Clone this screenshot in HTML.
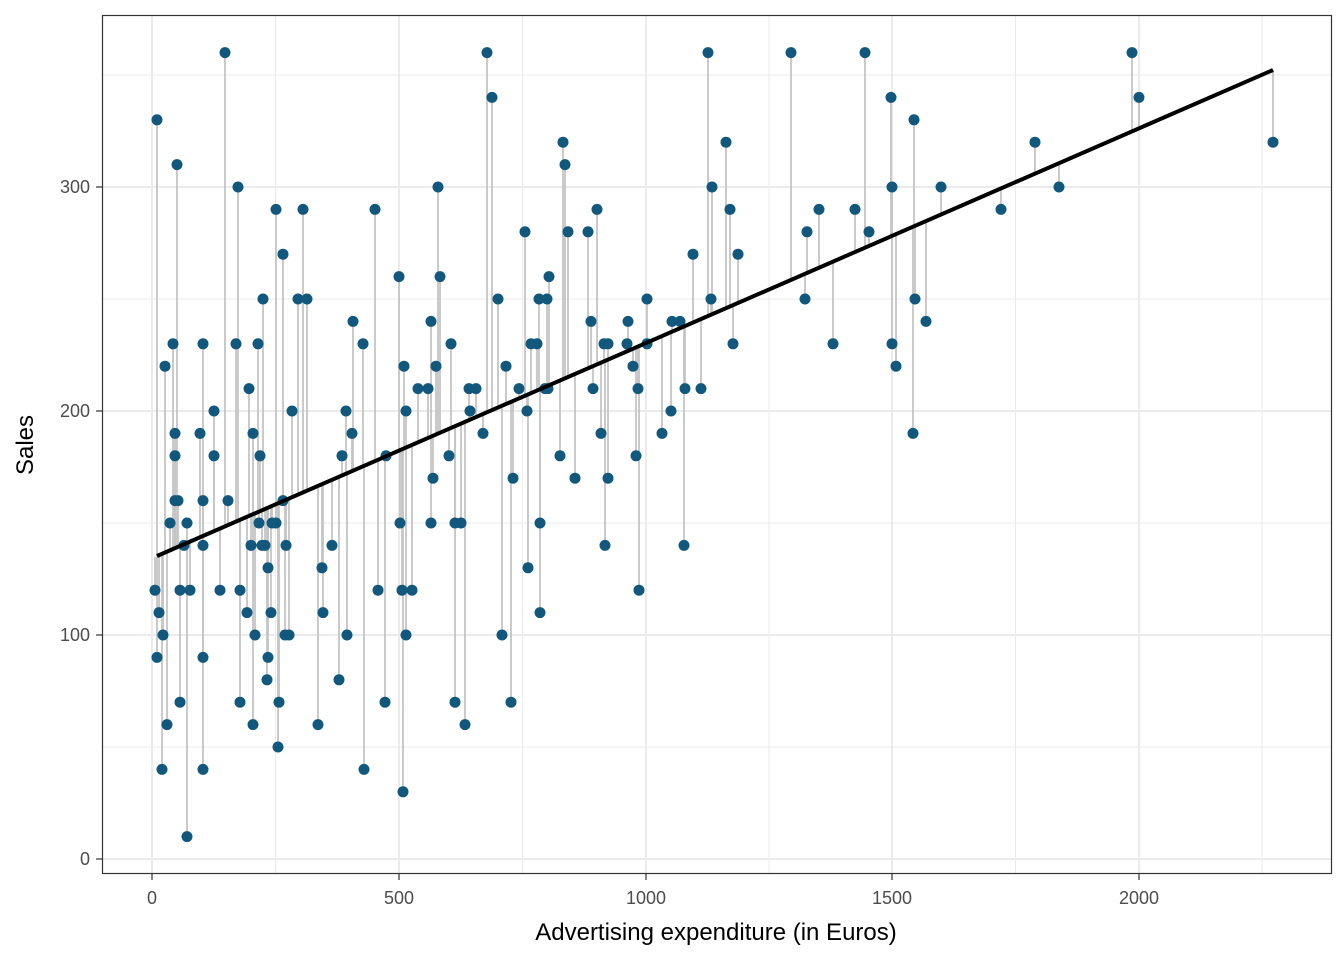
<!DOCTYPE html>
<html><head><meta charset="utf-8"><style>body{margin:0;background:#fff}svg{display:block}text{font-family:"Liberation Sans",Arial,sans-serif}</style></head>
<body>
<svg id="s" width="1344" height="960" xmlns="http://www.w3.org/2000/svg">
<rect x="0" y="0" width="1344" height="960" fill="#fff"/>
<g id="grid"></g>
<g id="seg"></g>
<g id="pts"></g>
<line x1="157" y1="556" x2="1273" y2="70" stroke="#000" stroke-width="4"/>
<rect x="102.5" y="15.5" width="1229" height="858" fill="none" stroke="#333" stroke-width="1.2"/>
<g id="ax" font-size="18" fill="#4d4d4d"></g>
<text x="716" y="940" font-size="24" text-anchor="middle" fill="#000">Advertising expenditure (in Euros)</text>
<text transform="translate(33,445) rotate(-90)" font-size="24" text-anchor="middle" fill="#000">Sales</text>
</svg>
<script>
var NS="http://www.w3.org/2000/svg";
function el(p,t,a){var e=document.createElementNS(NS,t);for(var k in a)e.setAttribute(k,a[k]);p.appendChild(e);return e;}
var g=document.getElementById('grid'),ax=document.getElementById('ax');
[275.5,522.5,769,1015.5,1262].forEach(function(x){el(g,'line',{x1:x,x2:x,y1:15,y2:874,stroke:'#ebebeb','stroke-width':1});});
[747,523,299,75].forEach(function(y){el(g,'line',{x1:102,x2:1332,y1:y,y2:y,stroke:'#ebebeb','stroke-width':1});});
var xs=[[152,'0'],[399,'500'],[646,'1000'],[892,'1500'],[1139,'2000']];
xs.forEach(function(a){el(g,'line',{x1:a[0],x2:a[0],y1:15,y2:874,stroke:'#ebebeb','stroke-width':2});
 el(ax,'line',{x1:a[0],x2:a[0],y1:874,y2:880,stroke:'#333','stroke-width':1.2});
 var t=el(ax,'text',{x:a[0],y:904,'text-anchor':'middle'});t.textContent=a[1];});
var ys=[[859,'0'],[635,'100'],[411,'200'],[187,'300']];
ys.forEach(function(a){el(g,'line',{x1:102,x2:1332,y1:a[0],y2:a[0],stroke:'#ebebeb','stroke-width':2});
 el(ax,'line',{x1:96,x2:102,y1:a[0],y2:a[0],stroke:'#333','stroke-width':1.2});
 var t=el(ax,'text',{x:90,y:a[0]+6,'text-anchor':'end'});t.textContent=a[1];});
var P=[157,330,155,120,157,90,159,110,163,100,165,220,162,40,167,60,170,150,173,230,175,190,175,180,175,160,177,310,178,160,180,120,180,70,184,140,187,150,187,10,190,120,200,190,203,230,203,160,203,140,203,90,203,40,214,200,214,180,220,120,225,360,228,160,236,230,238,300,240,120,240,70,247,110,249,210,251,140,253,190,253,60,255,100,258,230,260,180,259,150,263,250,262,140,265,140,268,130,268,90,267,80,271,110,272,150,276,290,276,150,278,50,279,70,283,270,283,160,285,100,286,140,289,100,292,200,298,250,303,290,307,250,318,60,322,130,323,110,332,140,339,80,342,180,346,200,347,100,352,190,353,240,363,230,364,40,375,290,378,120,386,180,385,70,399,260,400,150,402,120,403,30,404,220,406,200,406,100,412,120,418,210,428,210,431,240,431,150,433,170,436,220,438,300,440,260,449,180,451,230,455,150,455,70,461,150,465,60,469,210,470,200,476,210,483,190,487,360,492,340,498,250,502,100,506,220,511,70,513,170,519,210,525,280,527,200,528,130,531,230,537,230,539,250,540,150,540,110,545,210,548,210,547,250,549,260,560,180,563,320,565,310,568,280,575,170,588,280,591,240,593,210,597,290,601,190,604,230,608,230,605,140,608,170,627,230,628,240,633,220,636,180,638,210,639,120,647,250,647,230,662,190,671,200,672,240,680,240,684,140,685,210,693,270,701,210,708,360,711,250,712,300,726,320,730,290,733,230,738,270,791,360,805,250,807,280,819,290,833,230,855,290,865,360,869,280,891,340,892,300,892,230,896,220,913,190,914,330,915,250,926,240,941,300,1001,290,1035,320,1059,300,1132,360,1139,340,1273,320];
var sg=document.getElementById('seg'),pg=document.getElementById('pts');
for(var i=0;i<P.length;i+=2){var x=P[i],y=859-2.24*P[i+1],ly=556-(x-157)*0.4355;
 el(sg,'line',{x1:x,x2:x,y1:y,y2:ly,stroke:'#c4c4c4','stroke-width':1.8});
 el(pg,'circle',{cx:x,cy:y,r:5.5,fill:'#12587d'});}
</script>
</body></html>
